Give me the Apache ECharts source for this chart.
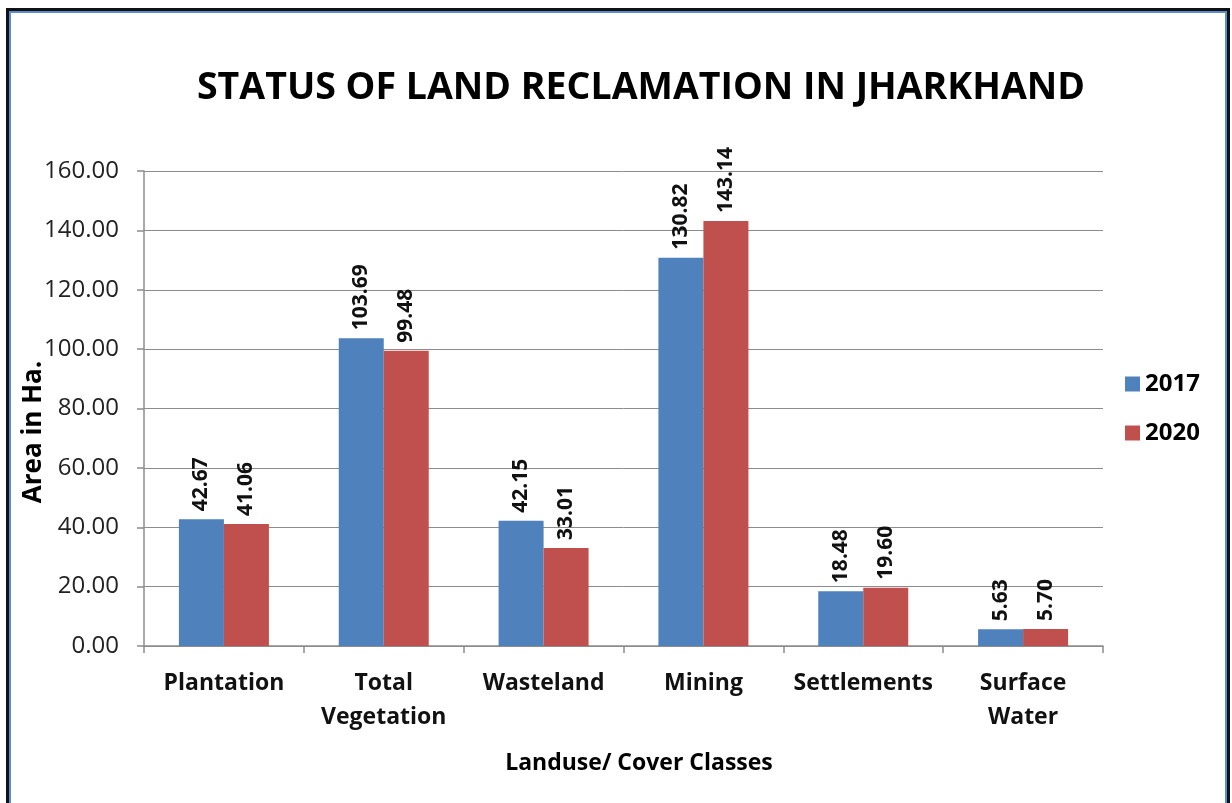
<!DOCTYPE html>
<html>
<head>
<meta charset="utf-8">
<script src="https://cdn.jsdelivr.net/npm/echarts@6/dist/echarts.min.js"></script>
<style>
  html, body { margin: 0; padding: 0; background: #fff; }
  #frame {
    position: absolute; left: 6px; top: 8px; width: 1218px; height: 800px;
    border: 3px solid #111; border-bottom: none;
    box-shadow: inset 0 0 0 2px #5b8bd0;
  }
  #chart { position: absolute; left: 0; top: 0; width: 1232px; height: 803px; }
</style>
</head>
<body>
<div id="frame"></div>
<div id="chart"></div>
<script>
const categories = ["Plantation", "Total\nVegetation", "Wasteland", "Mining", "Settlements", "Surface\nWater"];
const values2017 = [42.67, 103.69, 42.15, 130.82, 18.48, 5.63];
const values2020 = [41.06, 99.48, 33.01, 143.14, 19.6, 5.7];
const yTicks = { min: 0, max: 160, interval: 20 };

const font = "'Open Sans', 'Liberation Sans', sans-serif";

function barLabel() {
  return {
    show: true,
    position: "top",
    rotate: 90,
    align: "left",
    verticalAlign: "middle",
    distance: 8,
    color: "#111",
    fontFamily: font,
    fontWeight: "bold",
    fontSize: 21,
    formatter: (p) => p.value.toFixed(2),
  };
}

const chart = echarts.init(document.getElementById("chart"));
chart.setOption({
  animation: false,
  backgroundColor: "transparent",
  title: {
    text: "STATUS OF LAND RECLAMATION IN JHARKHAND",
    left: 636,
    top: 64,
    textAlign: "center",
    textStyle: { fontFamily: font, fontWeight: "bold", fontSize: 37.5, color: "#000" },
  },
  legend: {
    orient: "vertical",
    left: 1120,
    top: 367,
    itemWidth: 15,
    itemHeight: 15,
    itemGap: 25,
    icon: "rect",
    textStyle: { fontFamily: font, fontWeight: "bold", fontSize: 24, color: "#000" },
    data: ["2017", "2020"],
  },
  grid: { left: 144, right: 129, top: 171, bottom: 157 },
  xAxis: {
    type: "category",
    data: categories,
    axisLine: { lineStyle: { color: "#8c8c8c", width: 1.5 } },
    axisTick: { show: true, length: 7, lineStyle: { color: "#8c8c8c", width: 1.5 } },
    axisLabel: {
      margin: 20,
      color: "#111",
      fontFamily: font,
      fontWeight: "bold",
      fontSize: 23,
      lineHeight: 34,
      interval: 0,
    },
  },
  yAxis: {
    type: "value",
    min: yTicks.min,
    max: yTicks.max,
    interval: yTicks.interval,
    axisLine: { show: true, lineStyle: { color: "#8c8c8c", width: 1.5 } },
    axisTick: { show: true, length: 7, lineStyle: { color: "#8c8c8c", width: 1.5 } },
    splitLine: { lineStyle: { color: "#8c8c8c", width: 1 } },
    axisLabel: {
      margin: 25,
      color: "#222",
      fontFamily: font,
      fontSize: 24,
      formatter: (v) => v.toFixed(2),
    },
  },
  graphic: [
    {
      type: "text",
      x: 34,
      y: 432,
      rotation: Math.PI / 2,
      style: {
        text: "Area in Ha.",
        fontFamily: font,
        fontWeight: "bold",
        fontSize: 26,
        fill: "#000",
        align: "center",
        verticalAlign: "middle",
      },
    },
    {
      type: "text",
      x: 639,
      y: 763,
      style: {
        text: "Landuse/ Cover Classes",
        fontFamily: font,
        fontWeight: "bold",
        fontSize: 23,
        fill: "#000",
        align: "center",
        verticalAlign: "middle",
      },
    },
  ],
  series: [
    {
      name: "2017",
      type: "bar",
      data: values2017,
      barWidth: 45,
      barGap: "0%",
      itemStyle: { color: "#4f81bd" },
      label: barLabel(),
    },
    {
      name: "2020",
      type: "bar",
      data: values2020,
      barWidth: 45,
      itemStyle: { color: "#c0504d" },
      label: barLabel(),
    },
  ],
});
</script>
</body>
</html>
